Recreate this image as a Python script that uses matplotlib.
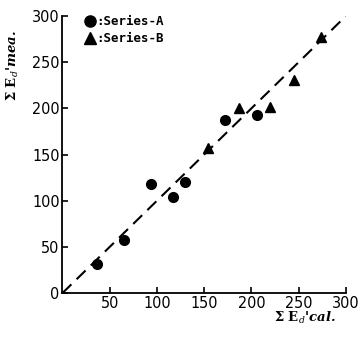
import matplotlib
matplotlib.use("Agg")
import matplotlib.pyplot as plt
import numpy as np

# Data
a_cal = [37, 65, 94, 117, 130, 172, 206]
a_mea = [32, 57, 118, 104, 120, 187, 193]
b_cal = [154, 187, 220, 245, 274]
b_mea = [157, 200, 202, 231, 277]
line_vals = [0, 300]
x_ticks = [50, 100, 150, 200, 250, 300]
y_ticks = [0, 50, 100, 150, 200, 250, 300]

plt.rcParams["mathtext.fontset"] = "dejavuserif"

fig = plt.figure(figsize=(3.61, 3.42), dpi=100)
ax = fig.add_axes([0.173, 0.143, 0.785, 0.81])

ax.plot(line_vals, line_vals, color="black", lw=1.5, dashes=(6, 3.5))
ax.plot(a_cal, a_mea, "o", color="black", ms=7, label=":Series-A", clip_on=False)
ax.plot(b_cal, b_mea, "^", color="black", ms=7, label=":Series-B", clip_on=False)

ax.set_xlim(0, 300)
ax.set_ylim(0, 300)
for s in ["top", "right"]:
    ax.spines[s].set_visible(False)
for s in ["left", "bottom"]:
    ax.spines[s].set_linewidth(1.3)

ax.set_xticks(x_ticks)
ax.set_yticks(y_ticks)
tick_font = dict(family="DejaVu Sans", stretch="condensed", size=11.5)
ax.set_xticklabels([str(v) for v in x_ticks], fontdict=tick_font)
ax.set_yticklabels([str(v) for v in y_ticks], fontdict=tick_font)
ax.tick_params(direction="in", length=4, width=1.2, pad=2)

leg = ax.legend(loc="upper left", bbox_to_anchor=(0.05, 1.03), frameon=False,
                handletextpad=0.0, handlelength=1.0, borderaxespad=0.2,
                labelspacing=0.3, markerscale=1.15,
                prop=dict(family="DejaVu Sans Mono", weight="bold", size=9))

lab_font = dict(family="DejaVu Serif", weight="bold", style="italic", size=9.5)
fig.text(0.035, 0.81, r"$\mathbf{\Sigma}$ $\mathbf{E}_{\mathit{d}}$'mea.", rotation=90,
         ha="center", va="center", **lab_font)
fig.text(0.845, 0.07, r"$\mathbf{\Sigma}$ $\mathbf{E}_{\mathit{d}}$'cal.", ha="center",
         va="center", **lab_font)

fig.savefig("out.png", dpi=100)
